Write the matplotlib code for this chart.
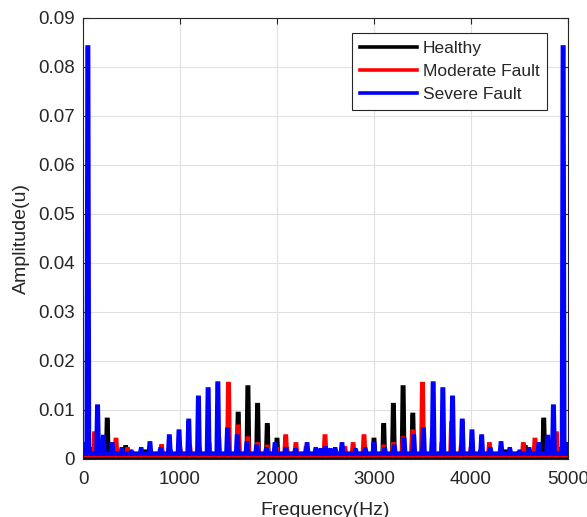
import numpy as np
import matplotlib
matplotlib.use("Agg")
import matplotlib.pyplot as plt

plt.rcParams['font.family'] = ['Liberation Sans', 'DejaVu Sans']

# spectrum peaks (Hz, amplitude)
healthy_f = [0, 50, 100, 250, 440, 650, 900, 1200, 1400, 1500, 1600, 1700, 1800, 1900, 2000,
             2100, 2200, 2800, 2900, 3000, 3100, 3200, 3300, 3400, 3500, 3600, 3800, 4100,
             4350, 4560, 4750, 4900, 4950, 5000]
healthy_a = [0.003, 0.004, 0.002, 0.008, 0.0024, 0.0015, 0.0015, 0.0015, 0.002, 0.003, 0.0092,
             0.0146, 0.011, 0.0069, 0.0039, 0.002, 0.0015, 0.0015, 0.002, 0.0039, 0.0069, 0.011,
             0.0146, 0.009, 0.003, 0.002, 0.0015, 0.0015, 0.0015, 0.0024, 0.008, 0.002, 0.004, 0.003]

moderate_f = [0, 50, 120, 200, 340, 460, 600, 810, 1000, 1100, 1200, 1300, 1400, 1500, 1600,
              1700, 1800, 1900, 2000, 2090, 2195, 2300, 2495, 2700, 2785, 2897, 3000, 3100,
              3200, 3300, 3400, 3500, 3600, 3700, 3800, 3900, 4000, 4190, 4400, 4540, 4660,
              4800, 4880, 4950, 5000]
moderate_a = [0.003, 0.006, 0.0052, 0.003, 0.0039, 0.002, 0.0015, 0.0026, 0.002, 0.0025, 0.002,
              0.003, 0.004, 0.0153, 0.0066, 0.0042, 0.003, 0.0025, 0.002, 0.0046, 0.003, 0.0022,
              0.0046, 0.0022, 0.003, 0.0046, 0.002, 0.0025, 0.003, 0.0042, 0.0056, 0.0153, 0.004,
              0.003, 0.0073, 0.0025, 0.002, 0.003, 0.0015, 0.003, 0.0039, 0.003, 0.0052, 0.006,
              0.003]

severe_f = [0, 50, 150, 210, 300, 400, 500, 600, 690, 800, 890, 990, 1090, 1190, 1290, 1390,
            1490, 1590, 1690, 1790, 1890, 1980, 2090, 2190, 2310, 2400, 2450, 2500, 2550, 2600,
            2670, 2810, 2910, 3000, 3110, 3210, 3310, 3410, 3510, 3610, 3710, 3810, 3910, 4010,
            4110, 4200, 4310, 4400, 4500, 4600, 4700, 4790, 4850, 4950, 5000]
severe_a = [0.003, 0.084, 0.0107, 0.0045, 0.003, 0.002, 0.0015, 0.002, 0.0032, 0.002, 0.0046,
            0.0056, 0.0078, 0.0125, 0.0142, 0.0154, 0.006, 0.0046, 0.0032, 0.0025, 0.002, 0.003,
            0.002, 0.0018, 0.003, 0.002, 0.0018, 0.0022, 0.0018, 0.002, 0.003, 0.0018, 0.002,
            0.003, 0.002, 0.0025, 0.004, 0.0046, 0.006, 0.0154, 0.0142, 0.0125, 0.0078, 0.0056,
            0.0046, 0.002, 0.0032, 0.002, 0.0015, 0.002, 0.003, 0.0045, 0.0107, 0.084, 0.003]

floors = {'Healthy': 0.0003, 'Moderate Fault': 0.0008, 'Severe Fault': 0.0011}
colors = {'Healthy': 'k', 'Moderate Fault': 'r', 'Severe Fault': 'b'}

x_ticks = [0, 1000, 2000, 3000, 4000, 5000]
y_ticks = [0, 0.01, 0.02, 0.03, 0.04, 0.05, 0.06, 0.07, 0.08, 0.09]
y_labels = ['0', '0.01', '0.02', '0.03', '0.04', '0.05', '0.06', '0.07', '0.08', '0.09']


def spikes(f, a, floor):
    # each peak drawn as a narrow spike rising from the noise floor
    xs, ys = [], []
    for fi, ai in zip(f, a):
        xs += [fi - 12, fi - 3, fi + 3, fi + 12]
        ys += [floor, ai, ai, floor]
    xs = np.clip(xs, 0, 5000)
    return xs, ys


fig = plt.figure(figsize=(5.87, 5.17), dpi=100)
ax = fig.add_axes([0.1414, 0.1122, 0.8262, 0.853])

series = [('Healthy', healthy_f, healthy_a),
          ('Moderate Fault', moderate_f, moderate_a),
          ('Severe Fault', severe_f, severe_a)]
for name, f, a in series:
    xs, ys = spikes(f, a, floors[name])
    ax.plot(xs, ys, color=colors[name], lw=3.2, label=name, solid_joinstyle='miter')

ax.set_xlim(0, 5000)
ax.set_ylim(0, 0.09)
ax.set_xticks(x_ticks)
ax.set_yticks(y_ticks)
ax.set_yticklabels(y_labels)
ax.grid(True, color='#e0e0e0', lw=0.8)
ax.set_axisbelow(True)
ax.tick_params(direction='in', top=True, right=True, labelsize=13.5,
               colors='#262626', length=4, width=0.8, pad=6)
ax.tick_params(axis='x', pad=9)
for s in ax.spines.values():
    s.set_color('#262626')
    s.set_linewidth(0.8)

ax.set_xlabel('Frequency(Hz)', fontsize=14, color='#262626', labelpad=10)
ax.set_ylabel('Amplitude(u)', fontsize=14, color='#262626', labelpad=6)

leg = ax.legend(loc='upper right', bbox_to_anchor=(0.957, 0.966), borderaxespad=0,
                fontsize=12.5, fancybox=False, edgecolor='#262626', framealpha=1,
                handlelength=3.3, labelspacing=0.45, borderpad=0.45, handletextpad=0.3)
leg.get_frame().set_linewidth(0.8)
for line in leg.get_lines():
    line.set_linewidth(2.6)
for t in leg.get_texts():
    t.set_color('#262626')

fig.savefig('out.png', dpi=100)
